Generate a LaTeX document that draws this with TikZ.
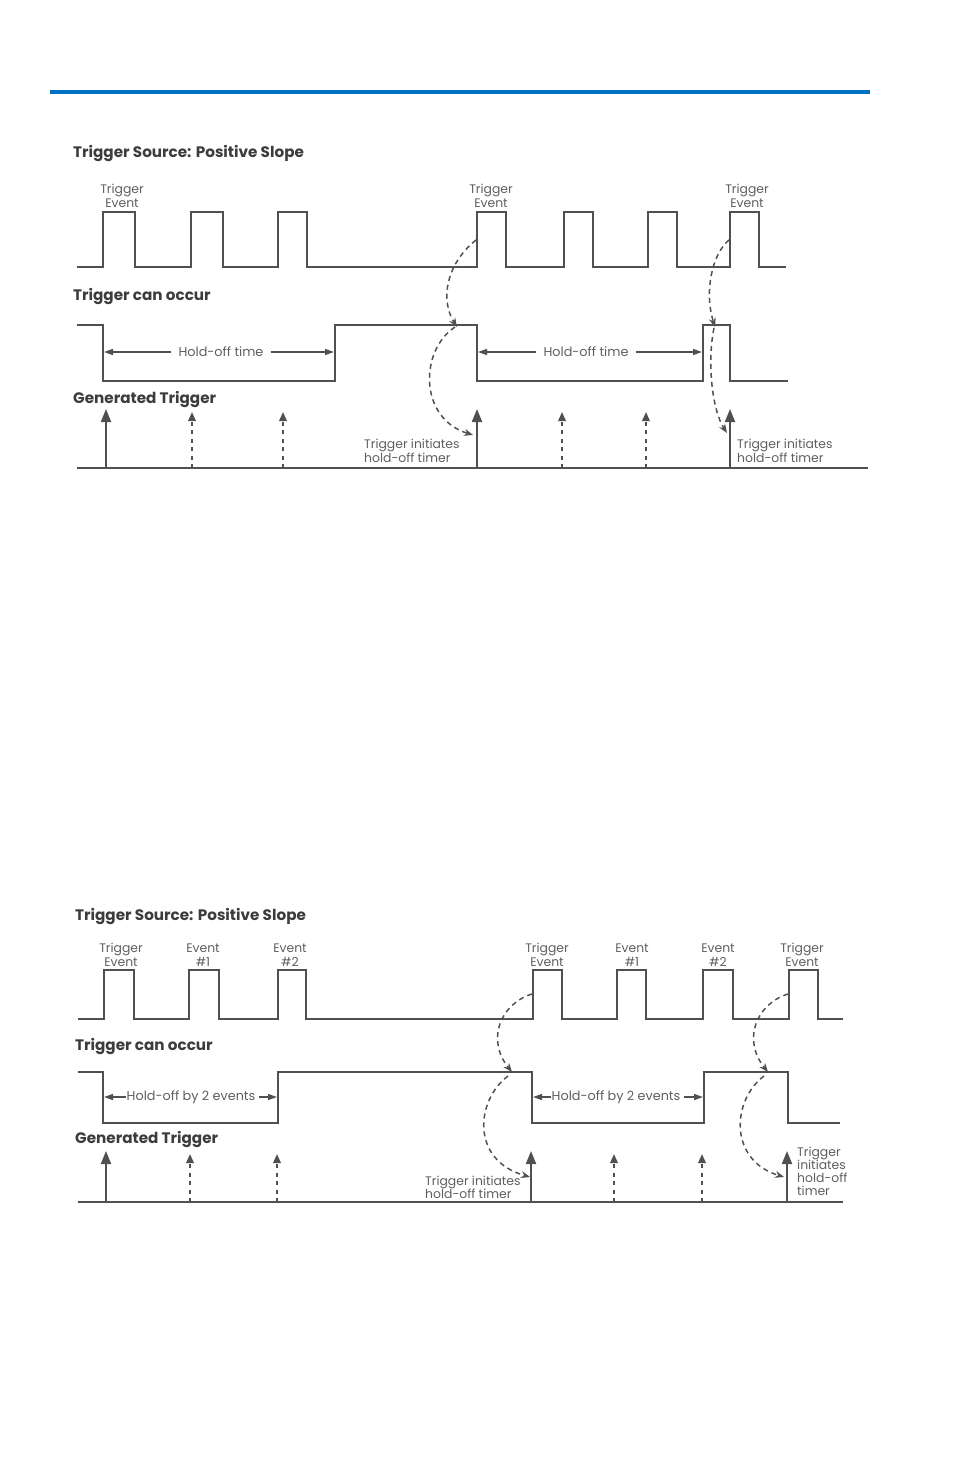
\documentclass[tikz,border=0pt]{standalone}
\usepackage{fontspec}
\setmainfont{Poppins}
\usetikzlibrary{arrows.meta}
\definecolor{blueC}{RGB}{0,114,198}
\definecolor{lineC}{RGB}{80,80,80}
\definecolor{textC}{RGB}{95,95,95}
\definecolor{headC}{RGB}{60,60,60}
\tikzset{
  sig/.style={line width=2pt, draw=lineC, line join=miter},
  trig/.style={line width=2pt, draw=lineC, -{Triangle[width=10pt,length=13pt]}},
  dtrig/.style={line width=1.7pt, draw=lineC, dash pattern=on 4pt off 4.5pt, -{Triangle[width=7.5pt,length=9pt]}},
  curv/.style={line width=1.5pt, draw=lineC, dash pattern=on 5pt off 4pt, -{Stealth[width=7pt,length=9pt]}},
  hold/.style={line width=1.4pt, draw=lineC, -{Triangle[width=6pt,length=9pt]}},
  head/.style={anchor=west, inner sep=0pt, text=headC, font=\bfseries\fontsize{15.2}{17}\selectfont},
  lbl/.style={inner sep=0pt, text=textC, font=\fontsize{12.4}{14}\selectfont, align=center},
  lbll/.style={inner sep=0pt, text=textC, font=\fontsize{12.4}{14.5}\selectfont, align=left, anchor=west},
  holdlbl/.style={inner sep=1pt, text=textC, font=\fontsize{12.8}{14}\selectfont}
}
\begin{document}
\begin{tikzpicture}[x=1pt,y=-1pt]
\useasboundingbox (0,0) rectangle (954,1474);
% blue rule
\draw[blueC, line width=4pt] (50,92) -- (870,92);

%================ TOP DIAGRAM =================
\node[head] (h1) at (73,154) {Trigger Source: Positive Slope};
\node[head] (h2) at (73,297) {Trigger can occur};
\node[head] (h3) at (73,399) {Generated Trigger};

\draw[sig] (77,267) -| (103,212) -| (135,267) -| (191,212) -| (223,267) -| (278,212) -| (307,267)
  -| (477,212) -| (506,267) -| (564,212) -| (593,267) -| (648,212) -| (677,267)
  -| (730,212) -| (759,267) -- (786,267);
\node[lbl] (te1) at (122,196) {Trigger\\Event};
\node[lbl] (te2) at (491,196) {Trigger\\Event};
\node[lbl] (te3) at (747,196) {Trigger\\Event};

\draw[sig] (77,325) -| (103,381) -| (335,325) -| (477,381) -| (703,325) -| (730,381) -- (788,381);
\node[holdlbl] (ho1) at (221,352) {Hold-off time};
\node[holdlbl] (ho2) at (586,352) {Hold-off time};
\coordinate (ho1l) at (104,352); \coordinate (ho1r) at (334,352);
\coordinate (ho2l) at (478,352); \coordinate (ho2r) at (702,352);
\draw[hold] ([xshift=-6pt]ho1.west) -- (ho1l);
\draw[hold] ([xshift=6pt]ho1.east) -- (ho1r);
\draw[hold] ([xshift=-6pt]ho2.west) -- (ho2l);
\draw[hold] ([xshift=6pt]ho2.east) -- (ho2r);

\draw[sig] (77,468) -- (868,468);
\foreach \x in {106,477,730}{\draw[trig] (\x,469) -- (\x,409);}
\foreach \x in {192,283,562,646}{\draw[dtrig] (\x,468) -- (\x,412);}
\node[lbll] (ti1) at (364,451) {Trigger initiates\\hold-off timer};
\node[lbll] (ti2) at (737,451) {Trigger initiates\\hold-off timer};

\draw[curv] (476,240) .. controls (446,264) and (440,300) .. (457,327);
\draw[curv] (455,327) .. controls (420,350) and (418,418) .. (473,435);
\draw[curv] (729,240) .. controls (712,254) and (704,292) .. (715,327);
\draw[curv] (714,328) .. controls (707,362) and (712,410) .. (727,433);

%================ BOTTOM DIAGRAM =================
\node[head] (b1) at (75,916) {Trigger Source: Positive Slope};
\node[head] (b2) at (75,1046) {Trigger can occur};
\node[head] (b3) at (75,1139) {Generated Trigger};

\draw[sig] (78,1019) -| (104,970) -| (134,1019) -| (189,970) -| (219,1019) -| (278,970) -| (306,1019)
  -| (533,970) -| (562,1019) -| (617,970) -| (646,1019) -| (703,970) -| (733,1019)
  -| (789,970) -| (818,1019) -- (843,1019);
\node[lbl] (be1) at (121,955) {Trigger\\Event};
\node[lbl] (be2) at (203,955) {Event\\\#1};
\node[lbl] (be3) at (290,955) {Event\\\#2};
\node[lbl] (be4) at (547,955) {Trigger\\Event};
\node[lbl] (be5) at (632,955) {Event\\\#1};
\node[lbl] (be6) at (718,955) {Event\\\#2};
\node[lbl] (be7) at (802,955) {Trigger\\Event};

\draw[sig] (78,1072) -| (103,1123) -| (278,1072) -| (532,1123) -| (704,1072) -| (788,1123) -- (840,1123);
\node[holdlbl] (bh1) at (191,1097) {Hold-off by 2 events};
\node[holdlbl] (bh2) at (616,1097) {Hold-off by 2 events};
\coordinate (bh1l) at (104,1097); \coordinate (bh1r) at (277,1097);
\coordinate (bh2l) at (533,1097); \coordinate (bh2r) at (703,1097);
\draw[hold] (bh1.west) -- (bh1l);
\draw[hold] ([xshift=3pt]bh1.east) -- (bh1r);
\draw[hold] (bh2.west) -- (bh2l);
\draw[hold] ([xshift=3pt]bh2.east) -- (bh2r);

\draw[sig] (78,1202) -- (843,1202);
\foreach \x in {106,531,787}{\draw[trig] (\x,1203) -- (\x,1151);}
\foreach \x in {190,277,614,702}{\draw[dtrig] (\x,1202) -- (\x,1154);}
\node[lbll, font=\fontsize{12.4}{13}\selectfont] (bt1) at (425,1187) {Trigger initiates\\hold-off timer};
\node[lbll, font=\fontsize{12.4}{13}\selectfont] (bt2) at (797,1171) {Trigger\\initiates\\hold-off\\timer};

\draw[curv] (532,994) .. controls (500,1004) and (486,1040) .. (512,1072);
\draw[curv] (508,1076) .. controls (476,1100) and (470,1160) .. (530,1177);
\draw[curv] (788,994) .. controls (756,1004) and (742,1040) .. (768,1072);
\draw[curv] (764,1076) .. controls (732,1100) and (728,1160) .. (784,1177);
\end{tikzpicture}
\end{document}
